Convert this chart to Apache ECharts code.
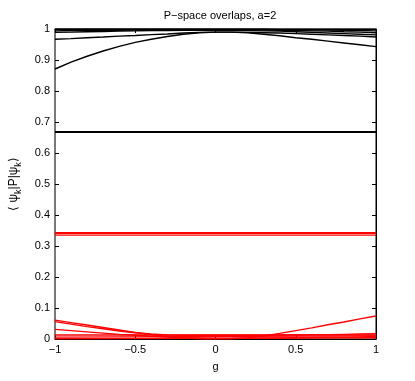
<!DOCTYPE html>
<html>
<head>
<meta charset="utf-8">
<script src="https://cdn.jsdelivr.net/npm/echarts@6/dist/echarts.min.js"></script>
<style>
  html, body { margin: 0; padding: 0; background: #fff; }
  #main { width: 415px; height: 381px; }
</style>
</head>
<body>
<div id="main"></div>
<script>
// g grid for the curved lines, end points for the flat ones
var gGrid = [-1, -0.9, -0.8, -0.7, -0.6, -0.5, -0.4, -0.3, -0.2, -0.1, 0,
             0.1, 0.2, 0.3, 0.4, 0.5, 0.6, 0.7, 0.8, 0.9, 1];
var gEnds = [-1, 1];

// black lines (P-space dominated states)
var black1 = [0.871, 0.893, 0.912, 0.929, 0.944, 0.957, 0.967, 0.976, 0.983, 0.988, 0.990,
              0.990, 0.988, 0.983, 0.978, 0.972, 0.967, 0.961, 0.955, 0.949, 0.943];
var black2 = [0.967, 0.969, 0.972, 0.974, 0.977, 0.979, 0.982, 0.984, 0.987, 0.989, 0.990,
              0.990, 0.989, 0.988, 0.987, 0.985, 0.983, 0.981, 0.979, 0.977, 0.974];
var black3 = [0.989, 0.990, 0.991, 0.992, 0.993, 0.994, 0.995, 0.995, 0.996, 0.996, 0.996,
              0.996, 0.995, 0.994, 0.993, 0.991, 0.989, 0.987, 0.985, 0.983, 0.981];
var black4 = [0.994, 0.995, 0.995, 0.996, 0.996, 0.997, 0.997, 0.998, 0.998, 0.998, 0.998,
              0.998, 0.998, 0.997, 0.996, 0.995, 0.994, 0.993, 0.991, 0.990, 0.988];
var black5 = [0.999, 0.999, 0.999, 0.999, 0.999, 0.999, 0.999, 0.999, 0.999, 0.999, 0.999,
              0.999, 0.999, 0.999, 0.998, 0.998, 0.997, 0.997, 0.996, 0.995, 0.994];
var black6 = [0.9995, 0.9995];
var black7 = [0.6685, 0.6685];
var black8 = [0.667, 0.667];

// red lines (Q-space dominated states)
var red1 = [0.343, 0.343];
var red2 = [0.341, 0.341];
var red3 = [0.335, 0.335];
var red4 = [0.061, 0.053, 0.045, 0.037, 0.029, 0.021, 0.014, 0.008, 0.004, 0.001, 0.000,
            0.001, 0.004, 0.010, 0.018, 0.027, 0.036, 0.046, 0.055, 0.065, 0.074];
var red5 = [0.056, 0.048, 0.040, 0.033, 0.026, 0.020, 0.016, 0.013, 0.012, 0.012, 0.012,
            0.012, 0.012, 0.012, 0.013, 0.013, 0.014, 0.014, 0.015, 0.016, 0.017];
var red6 = [0.031, 0.027, 0.023, 0.019, 0.015, 0.012, 0.009, 0.006, 0.004, 0.003, 0.002,
            0.002, 0.002, 0.003, 0.003, 0.004, 0.005, 0.006, 0.006, 0.007, 0.008];
var red7 = [0.013, 0.013];
var red8 = [0.006, 0.010];
var red9 = [0.001, 0.004];

function pairs(xs, ys) {
    var out = [];
    for (var i = 0; i < ys.length; i++) out.push([xs[i], ys[i]]);
    return out;
}

function fmt(v) {
    return String(v).replace('-', '\u2212');
}

var lines = [
    [gGrid, black1, '#000'], [gGrid, black2, '#000'], [gGrid, black3, '#000'],
    [gGrid, black4, '#000'], [gGrid, black5, '#000'], [gEnds, black6, '#000'],
    [gEnds, black7, '#000'], [gEnds, black8, '#000'],
    [gEnds, red1, '#ff0000'], [gEnds, red2, '#ff0000'], [gEnds, red3, '#ff0000'],
    [gGrid, red4, '#ff0000'], [gGrid, red5, '#ff0000'], [gGrid, red6, '#ff0000'],
    [gEnds, red7, '#ff0000'], [gEnds, red8, '#ff0000'], [gEnds, red9, '#ff0000']
];

var series = lines.map(function (l) {
    return {
        type: 'line',
        data: pairs(l[0], l[1]),
        showSymbol: false,
        silent: true,
        lineStyle: { color: l[2], width: 1.4 }
    };
});

var font = 'Liberation Sans, Arial, sans-serif';
var tickStyle = { show: true, inside: true, length: 4, lineStyle: { color: '#000' } };

var myChart = echarts.init(document.getElementById('main'));
var option = {
    animation: false,
    title: {
        text: 'P\u2212space overlaps, a=2',
        left: 215, top: 5, textAlign: 'center',
        textStyle: { fontFamily: font, fontSize: 11, fontWeight: 'normal', color: '#000' }
    },
    grid: { left: 53.5, right: 39, top: 29, bottom: 42, show: true, borderColor: '#000', borderWidth: 1 },
    xAxis: [{
        type: 'value', min: -1, max: 1, interval: 0.5,
        name: 'g', nameLocation: 'middle', nameGap: 22,
        nameTextStyle: { fontFamily: font, fontSize: 11, color: '#000' },
        axisLine: { show: true, onZero: false, lineStyle: { color: '#000' } },
        axisTick: tickStyle, splitLine: { show: false },
        axisLabel: { fontFamily: font, fontSize: 11, color: '#000', margin: 5, formatter: fmt }
    }, {
        type: 'value', min: -1, max: 1, interval: 0.5, position: 'top',
        axisLine: { show: true, onZero: false, lineStyle: { color: '#000' } },
        axisTick: tickStyle, splitLine: { show: false }, axisLabel: { show: false }
    }],
    yAxis: [{
        type: 'value', min: 0, max: 1, interval: 0.1,
        name: '{a|\u27e8 \u03c8}{s|k}{a||P|\u03c8}{s|k}{a|\u27e9}',
        nameLocation: 'middle', nameGap: 32, nameRotate: 90,
        nameTextStyle: {
            fontFamily: font, fontSize: 12, color: '#000',
            rich: {
                a: { fontFamily: font, fontSize: 12, color: '#000', verticalAlign: 'top', lineHeight: 15 },
                s: { fontFamily: font, fontSize: 9, color: '#000', verticalAlign: 'bottom', lineHeight: 15, padding: [6, 0, 0, 0] }
            }
        },
        axisLine: { show: true, onZero: false, lineStyle: { color: '#777', width: 1.5 } },
        axisTick: tickStyle, splitLine: { show: false },
        axisLabel: { fontFamily: font, fontSize: 11, color: '#000', margin: 5,
            formatter: function (v) { return String(Math.round(v * 10) / 10); } }
    }, {
        type: 'value', min: 0, max: 1, interval: 0.1, position: 'right',
        axisLine: { show: true, onZero: false, lineStyle: { color: '#000' } },
        axisTick: tickStyle, splitLine: { show: false }, axisLabel: { show: false }
    }],
    series: series
};

myChart.setOption(option);
</script>
</body>
</html>
